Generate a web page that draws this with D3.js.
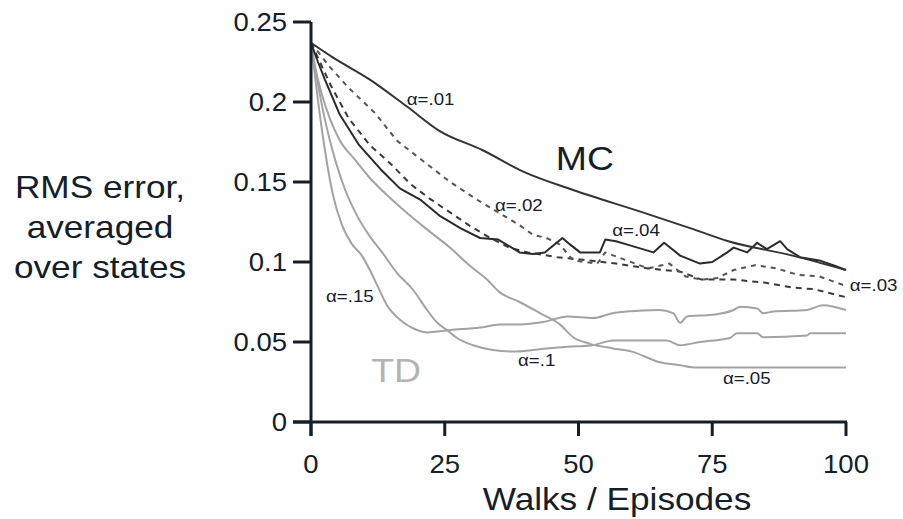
<!DOCTYPE html>
<html>
<head>
<meta charset="utf-8">
<script src="https://cdn.jsdelivr.net/npm/d3@7"></script>
<style>
  body { margin: 0; background: #fff; }
  svg { display: block; font-family: 'Liberation Sans', Arial, sans-serif; }
</style>
</head>
<body>
<div id="chart"></div>
<script>
const xTicks = [0, 25, 50, 75, 100]
const yTicks = [0, 0.05, 0.1, 0.15, 0.2, 0.25]
const yTickLabels = ['0', '0.05', '0.1', '0.15', '0.2', '0.25']
const yTitle = ['RMS error,', 'averaged', 'over states']
const xTitle = 'Walks / Episodes'

// MC runs, [walk, rms error]
const mc01 = [[0, 0.237], [4, 0.228], [11, 0.214], [18, 0.197], [24, 0.182], [32, 0.17], [40, 0.156],
  [49, 0.145], [62, 0.131], [71, 0.121], [78, 0.113], [90, 0.104], [100, 0.095]]
const mc02 = [[0, 0.237], [3.5, 0.222], [7, 0.209], [12, 0.193], [16, 0.176], [21, 0.163], [26, 0.15],
  [31, 0.139], [35, 0.131], [39, 0.123], [41.5, 0.117], [44, 0.115], [46.5, 0.111], [49, 0.101],
  [53.5, 0.099], [55, 0.106], [59, 0.101], [63, 0.096], [67, 0.099], [70, 0.091], [73, 0.089],
  [76, 0.09], [79, 0.095], [83, 0.098], [87, 0.096], [91, 0.092], [95, 0.091], [100, 0.085]]
const mc03 = [[0, 0.237], [3.6, 0.211], [7, 0.19], [11, 0.173], [15, 0.161], [18.5, 0.149], [22, 0.14],
  [26, 0.131], [29.5, 0.123], [33, 0.116], [37, 0.109], [40.5, 0.106], [46, 0.103], [52, 0.101],
  [57, 0.099], [63, 0.096], [69, 0.094], [73, 0.089], [79, 0.089], [85, 0.087], [90, 0.084],
  [94, 0.083], [100, 0.078]]
const mc04 = [[0, 0.237], [1.3, 0.225], [2.6, 0.214], [5.4, 0.192], [9, 0.173], [13, 0.158], [16.6, 0.146],
  [20.4, 0.139], [24, 0.129], [28, 0.121], [31.6, 0.115], [35, 0.114], [39, 0.106], [41.5, 0.105],
  [43.7, 0.106], [47, 0.115], [48.4, 0.111], [50.3, 0.106], [54, 0.106], [55, 0.114], [57, 0.113],
  [59, 0.111], [64, 0.106], [66, 0.112], [69, 0.104], [72.7, 0.099], [75, 0.1], [77.8, 0.106],
  [79, 0.109], [81.5, 0.106], [83.4, 0.112], [85.2, 0.108], [87.7, 0.113], [89, 0.108],
  [91.4, 0.103], [95, 0.101], [97.6, 0.098], [100, 0.095]]

// TD runs
const td15 = [[0, 0.237], [1.3, 0.201], [2.6, 0.17], [4.1, 0.142], [5.8, 0.123], [7.7, 0.111],
  [9.5, 0.104], [11, 0.095], [12.3, 0.086], [14.2, 0.073], [16.6, 0.064], [19.8, 0.0575],
  [21.7, 0.056], [26, 0.0575], [31.6, 0.059], [35.3, 0.061], [39, 0.061], [43.4, 0.0625],
  [48, 0.066], [52.7, 0.065], [56.4, 0.068], [59, 0.069], [65, 0.07], [67.7, 0.068], [69, 0.062],
  [70.3, 0.066], [75, 0.067], [79, 0.07], [80.2, 0.072], [83.4, 0.071], [84.5, 0.068],
  [86.4, 0.069], [92.7, 0.07], [95.7, 0.073], [100, 0.07]]
const td1 = [[0, 0.237], [1.3, 0.211], [2.8, 0.186], [4.5, 0.164], [6.4, 0.145], [8.6, 0.129],
  [11, 0.116], [13.3, 0.106], [16.1, 0.093], [19.1, 0.0825], [21.7, 0.07], [23.6, 0.062],
  [25.4, 0.0575], [27.3, 0.0525], [30.3, 0.048], [34, 0.045], [37.8, 0.044], [41.5, 0.045],
  [44, 0.046], [48, 0.047], [52.7, 0.048], [56.4, 0.051], [66.5, 0.051], [69, 0.048],
  [72.7, 0.05], [78.3, 0.0525], [79.6, 0.0555], [83.4, 0.0555], [84.5, 0.053], [92.7, 0.054],
  [93.3, 0.0555], [100, 0.0555]]
const td05 = [[0, 0.237], [0.9, 0.22], [2.1, 0.204], [3.6, 0.189], [5.4, 0.176], [8.2, 0.164],
  [11, 0.1525], [14.8, 0.14], [18.5, 0.129], [22.2, 0.119], [26.5, 0.1075], [29.2, 0.099],
  [32.9, 0.089], [35.3, 0.081], [39, 0.075], [42.8, 0.068], [46.5, 0.061], [49, 0.053],
  [52, 0.049], [56.4, 0.046], [60, 0.044], [65, 0.0375], [69, 0.0355], [72, 0.034],
  [90, 0.034], [100, 0.034]]

const width = 903
const height = 519
const ink = '#13202a'

const x = d3.scaleLinear().domain([0, 100]).range([311, 846])
const y = d3.scaleLinear().domain([0, 0.25]).range([422, 22])

const svg = d3.select('#chart')
  .append('svg')
  .attr('width', width)
  .attr('height', height)

// the reference text is a little wider than the font, so stretch it
function addText (px, py, str, size, anchor, fill) {
  return svg.append('text')
    .attr('transform', `translate(${px},${py}) scale(1.1,1)`)
    .attr('text-anchor', anchor)
    .style('font-size', `${size}px`)
    .style('fill', fill || ink)
    .text(str)
}

function drawAxes () {
  svg.append('line')
    .attr('x1', x(0)).attr('x2', x(0))
    .attr('y1', y(0.25)).attr('y2', y(0) + 14)
    .style('stroke', ink).style('stroke-width', 3)
  svg.append('line')
    .attr('x1', x(0) - 18).attr('x2', x(100) + 1)
    .attr('y1', y(0)).attr('y2', y(0))
    .style('stroke', ink).style('stroke-width', 3)

  svg.selectAll('.ytick')
    .data(yTicks)
    .enter()
    .append('line')
    .attr('class', 'ytick')
    .attr('x1', x(0) - 18).attr('x2', x(0))
    .attr('y1', (d) => y(d)).attr('y2', (d) => y(d))
    .style('stroke', ink).style('stroke-width', 3)

  svg.selectAll('.xtick')
    .data(xTicks)
    .enter()
    .append('line')
    .attr('class', 'xtick')
    .attr('x1', (d) => x(d)).attr('x2', (d) => x(d))
    .attr('y1', y(0)).attr('y2', y(0) + 14)
    .style('stroke', ink).style('stroke-width', 3)

  yTicks.forEach((t, i) => addText(287, y(t) + 9, yTickLabels[i], 25, 'end'))
  xTicks.forEach((t) => addText(x(t), 473, String(t), 25, 'middle'))

  addText(617, 510, xTitle, 32, 'middle')
  yTitle.forEach((s, i) => addText(100, 198 + i * 40, s, 32, 'middle'))
}

function drawRuns () {
  const smooth = d3.line()
    .x((d) => x(d[0]))
    .y((d) => y(d[1]))
    .curve(d3.curveMonotoneX)
  const jagged = d3.line()
    .x((d) => x(d[0]))
    .y((d) => y(d[1]))

  const runs = [
    { data: td05, color: '#a3a3a3', dash: null, line: smooth },
    { data: td1, color: '#a3a3a3', dash: null, line: smooth },
    { data: td15, color: '#a3a3a3', dash: null, line: smooth },
    { data: mc03, color: '#3a3a3a', dash: '6,5', line: jagged },
    { data: mc02, color: '#555555', dash: '5,5', line: jagged },
    { data: mc04, color: '#2a2a2a', dash: null, line: jagged },
    { data: mc01, color: '#333333', dash: null, line: smooth }
  ]

  svg.selectAll('.run')
    .data(runs)
    .enter()
    .append('path')
    .attr('class', 'run')
    .attr('d', (d) => d.line(d.data))
    .style('fill', 'none')
    .style('stroke', (d) => d.color)
    .style('stroke-width', 2)
    .style('stroke-linejoin', 'round')
    .style('stroke-dasharray', (d) => d.dash)
}

function drawNotes () {
  const notes = [
    ['α=.01', 17.9, 0.198], ['α=.02', 34.4, 0.132], ['α=.04', 56.3, 0.116],
    ['α=.03', 100.7, 0.082], ['α=.15', 2.8, 0.075], ['α=.1', 38.7, 0.035],
    ['α=.05', 77, 0.0235]
  ]
  notes.forEach(([s, ex, ev]) => addText(x(ex), y(ev), s, 17, 'start'))

  addText(x(51.2), y(0.1575), 'MC', 34, 'middle')
  addText(x(15.9), y(0.025), 'TD', 34, 'middle', '#b3b3b3')
}

drawRuns()
drawAxes()
drawNotes()
</script>
</body>
</html>
